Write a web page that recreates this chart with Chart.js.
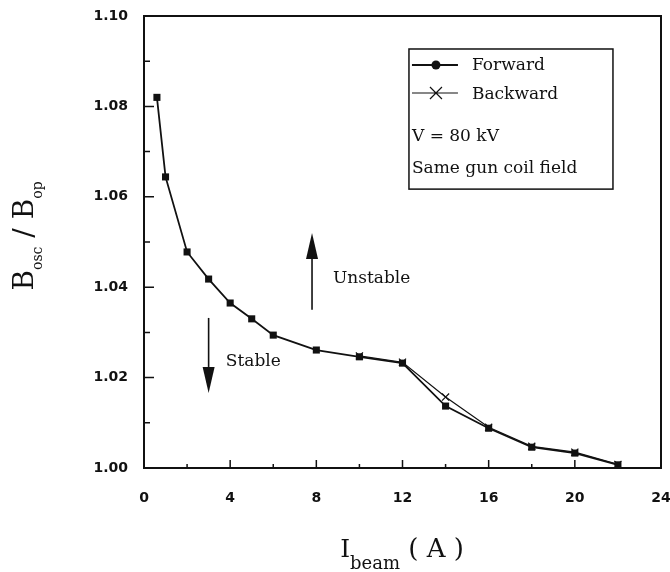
<!DOCTYPE html>
<html>
<head>
<meta charset="utf-8">
<script src="https://cdn.jsdelivr.net/npm/chart.js@4/dist/chart.umd.min.js"></script>
<style>
  html, body { margin: 0; padding: 0; background: #fff; }
  canvas { display: block; }
</style>
</head>
<body>
<canvas id="chart" width="670" height="572"></canvas>
<script>
// Beam current (A) vs B_osc / B_op
const fwdCurrent = [0.6, 1, 2, 3, 4, 5, 6, 8, 10, 12, 14, 16, 18, 20, 22];
const fwdRatio = [1.082, 1.0644, 1.0478, 1.0418, 1.0365, 1.033, 1.0294, 1.0261, 1.0246, 1.0232, 1.0137, 1.0088, 1.0046, 1.0033, 1.0007];
const bwdCurrent = [10, 12, 14, 16, 18, 20, 22];
const bwdRatio = [1.0248, 1.0234, 1.0157, 1.009, 1.0048, 1.0035, 1.0008];

// axis ticks
const xMajor = [0, 4, 8, 12, 16, 20, 24];
const xMinor = [2, 6, 10, 14, 18, 22];
const yMajor = [1.00, 1.02, 1.04, 1.06, 1.08, 1.10];
const yMinor = [1.01, 1.03, 1.05, 1.07, 1.09];

const seriesNames = ['Forward', 'Backward'];
const noteLines = ['V = 80 kV', 'Same gun coil field'];

const SERIF = '"DejaVu Serif", "Liberation Serif", serif';
const ink = '#111';

function toPoints(xs, ys) {
  return xs.map((x, i) => ({ x: x, y: ys[i] }));
}

function arrow(ctx, x, y0, y1) {
  // shaft from y0 to tip y1 (pixels)
  const dir = y1 < y0 ? 1 : -1;
  const head = 26, half = 6;
  ctx.beginPath();
  ctx.moveTo(x, y0);
  ctx.lineTo(x, y1 + dir * head);
  ctx.stroke();
  ctx.beginPath();
  ctx.moveTo(x, y1);
  ctx.lineTo(x - half, y1 + dir * head);
  ctx.lineTo(x + half, y1 + dir * head);
  ctx.closePath();
  ctx.fill();
}

function drawPieces(ctx, pieces, cx, cy) {
  let total = 0;
  pieces.forEach(p => { ctx.font = p.font; p.w = ctx.measureText(p.text).width; total += p.w; });
  let u = cx - total / 2;
  pieces.forEach(p => {
    ctx.font = p.font;
    ctx.fillText(p.text, u, cy + p.dy);
    u += p.w;
  });
}

const paperDecor = {
  id: 'paperDecor',
  afterDraw(chart) {
    const ctx = chart.ctx;
    const a = chart.chartArea;
    const xs = chart.scales.x, ys = chart.scales.y;
    ctx.save();
    ctx.strokeStyle = ink;
    ctx.fillStyle = ink;

    // frame
    ctx.lineWidth = 2;
    ctx.strokeRect(a.left, a.top, a.right - a.left, a.bottom - a.top);

    // inward ticks
    ctx.lineWidth = 1.5;
    ctx.beginPath();
    xMajor.forEach(v => { const p = xs.getPixelForValue(v); ctx.moveTo(p, a.bottom); ctx.lineTo(p, a.bottom - 8); });
    xMinor.forEach(v => { const p = xs.getPixelForValue(v); ctx.moveTo(p, a.bottom); ctx.lineTo(p, a.bottom - 4); });
    yMajor.forEach(v => { const p = ys.getPixelForValue(v); ctx.moveTo(a.left, p); ctx.lineTo(a.left + 10, p); });
    yMinor.forEach(v => { const p = ys.getPixelForValue(v); ctx.moveTo(a.left, p); ctx.lineTo(a.left + 6, p); });
    ctx.stroke();

    // legend box
    const bx = xs.getPixelForValue(12.3), by = ys.getPixelForValue(1.0927);
    const bx2 = xs.getPixelForValue(21.77), by2 = ys.getPixelForValue(1.0617);
    ctx.lineWidth = 1.5;
    ctx.strokeRect(bx, by, bx2 - bx, by2 - by);

    ctx.font = '17px ' + SERIF;
    ctx.textAlign = 'left';
    ctx.textBaseline = 'middle';

    // forward sample
    ctx.lineWidth = 2;
    ctx.beginPath();
    ctx.moveTo(bx + 3, by + 16); ctx.lineTo(bx + 49, by + 16);
    ctx.stroke();
    ctx.beginPath();
    ctx.arc(bx + 27, by + 16, 4.5, 0, Math.PI * 2);
    ctx.fill();
    ctx.fillText(seriesNames[0], bx + 63, by + 17);

    // backward sample
    ctx.lineWidth = 1.2;
    ctx.beginPath();
    ctx.moveTo(bx + 3, by + 44); ctx.lineTo(bx + 49, by + 44);
    ctx.moveTo(bx + 21, by + 38); ctx.lineTo(bx + 33, by + 50);
    ctx.moveTo(bx + 33, by + 38); ctx.lineTo(bx + 21, by + 50);
    ctx.stroke();
    ctx.fillText(seriesNames[1], bx + 63, by + 46);

    ctx.fillText(noteLines[0], bx + 3, by + 88);
    ctx.fillText(noteLines[1], bx + 3, by + 120);

    // stability annotations
    ctx.fillText('Unstable', xs.getPixelForValue(8.77), ys.getPixelForValue(1.0418));
    ctx.fillText('Stable', xs.getPixelForValue(3.8), ys.getPixelForValue(1.0235));
    ctx.lineWidth = 1.6;
    arrow(ctx, xs.getPixelForValue(7.8), ys.getPixelForValue(1.035), ys.getPixelForValue(1.052));
    arrow(ctx, xs.getPixelForValue(3.0), ys.getPixelForValue(1.0332), ys.getPixelForValue(1.0166));

    // axis titles with subscripts
    ctx.textBaseline = 'alphabetic';
    ctx.textAlign = 'left';
    const big = '28px ' + SERIF, sub = '14px ' + SERIF;
    ctx.save();
    ctx.translate(33, 236);
    ctx.rotate(-Math.PI / 2);
    drawPieces(ctx, [
      { text: 'B', font: big, dy: 0 },
      { text: 'osc', font: sub, dy: 9 },
      { text: ' / ', font: big, dy: 0 },
      { text: 'B', font: big, dy: 0 },
      { text: 'op', font: sub, dy: 9 }
    ], 0, 0);
    ctx.restore();

    drawPieces(ctx, [
      { text: 'I', font: '25px ' + SERIF, dy: 0 },
      { text: 'beam', font: '18px ' + SERIF, dy: 12 },
      { text: ' ( A )', font: '26px ' + SERIF, dy: 0 }
    ], 402, 557);

    ctx.restore();
  }
};

const tickFont = { family: '"DejaVu Sans", sans-serif', size: 14, weight: 'bold' };

new Chart(document.getElementById('chart'), {
  type: 'line',
  data: {
    datasets: [
      {
        label: seriesNames[0],
        data: toPoints(fwdCurrent, fwdRatio),
        borderColor: ink,
        backgroundColor: ink,
        borderWidth: 1.8,
        pointStyle: 'rect',
        pointRadius: 5,
        pointBorderWidth: 0,
        tension: 0
      },
      {
        label: seriesNames[1],
        data: toPoints(bwdCurrent, bwdRatio),
        borderColor: ink,
        backgroundColor: ink,
        borderWidth: 1.2,
        pointStyle: 'crossRot',
        pointRadius: 5,
        pointBorderWidth: 1.2,
        tension: 0
      }
    ]
  },
  options: {
    responsive: false,
    animation: false,
    devicePixelRatio: 1,
    layout: { padding: { top: 16, right: 9, left: 0, bottom: 0 } },
    plugins: {
      legend: { display: false },
      tooltip: { enabled: false }
    },
    scales: {
      x: {
        type: 'linear',
        min: 0,
        max: 24,
        grid: { display: false, drawTicks: false },
        border: { display: false },
        afterBuildTicks: s => { s.ticks = xMajor.concat(xMinor).sort((a, b) => a - b).map(v => ({ value: v })); },
        ticks: {
          autoSkip: false,
          maxRotation: 0,
          padding: 22,
          color: ink,
          font: tickFont,
          callback: v => xMajor.includes(v) ? String(v) : ''
        },
        afterFit: s => { s.height = 104; s.paddingLeft = 0; s.paddingRight = 0; }
      },
      y: {
        type: 'linear',
        min: 1.00,
        max: 1.10,
        grid: { display: false, drawTicks: false },
        border: { display: false },
        afterBuildTicks: s => { s.ticks = yMajor.concat(yMinor).sort((a, b) => a - b).map(v => ({ value: v })); },
        ticks: {
          autoSkip: false,
          padding: 16,
          color: ink,
          font: tickFont,
          callback: v => yMajor.some(m => Math.abs(m - v) < 1e-6) ? v.toFixed(2) : ''
        },
        afterFit: s => { s.width = 144; s.paddingTop = 0; s.paddingBottom = 0; }
      }
    }
  },
  plugins: [paperDecor]
});
</script>
</body>
</html>
